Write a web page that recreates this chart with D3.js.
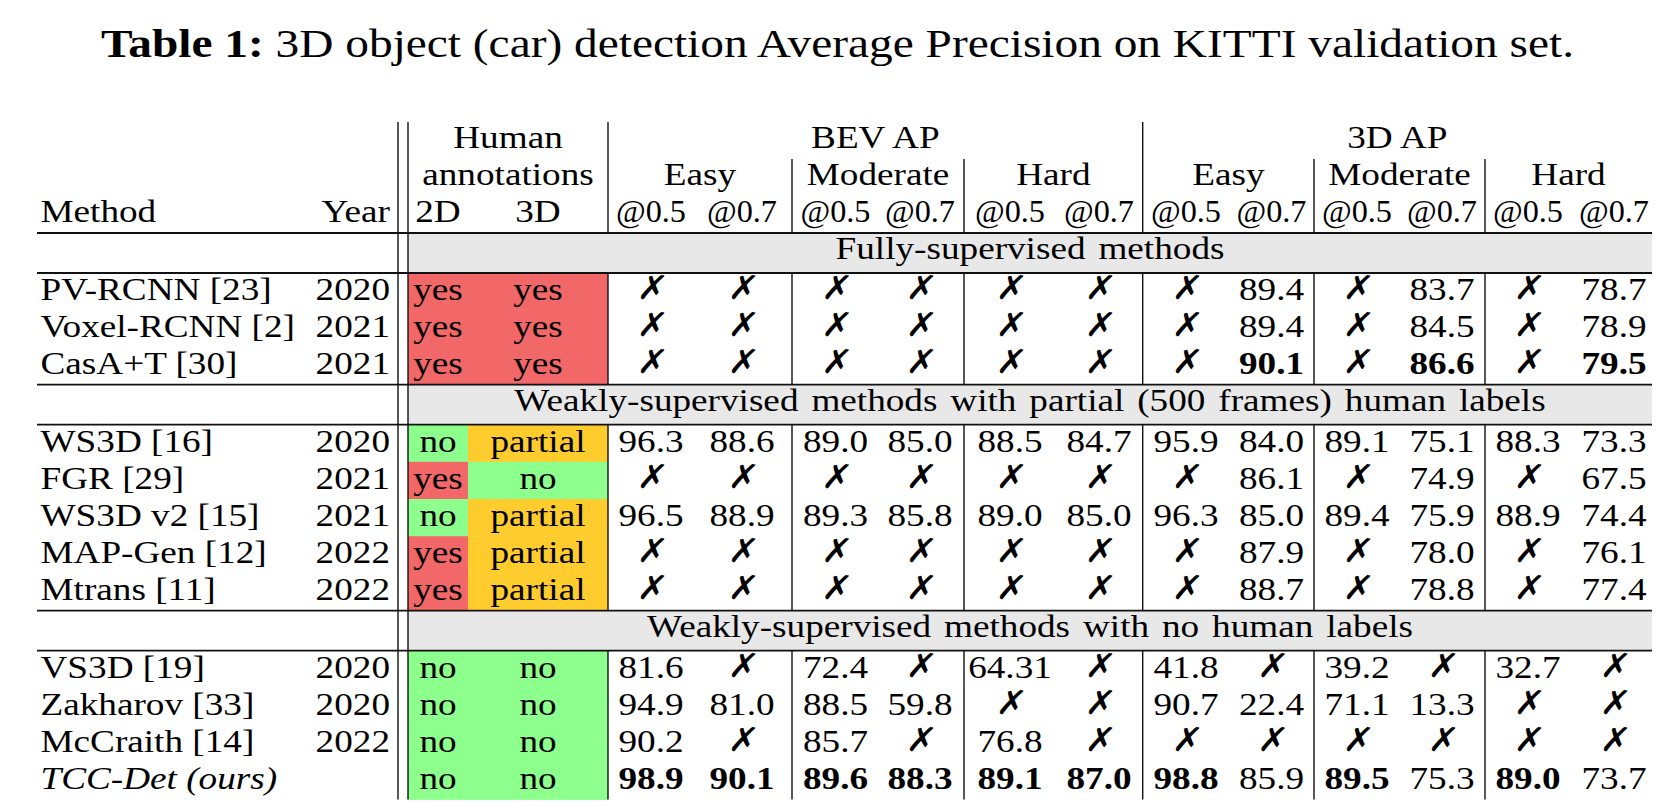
<!DOCTYPE html>
<html lang="en">
<head>
<meta charset="utf-8" />
<title>Table 1: KITTI 3D detection AP</title>
<style>
  * {margin: 0; padding: 0;}
  body {background: #fff;}
  svg {display: block;}
  text {font-family: "Liberation Serif", "Times New Roman", serif; fill: #000;}
  .x {font-family: "DejaVu Sans", sans-serif; font-weight: bold;}
</style>
</head>
<body>
<div id="viz"></div>
<script src="https://cdn.jsdelivr.net/npm/d3@7"></script>
<script>

var groupLabels = ["Fully-supervised methods",
                   "Weakly-supervised methods with partial (500 frames) human labels",
                   "Weakly-supervised methods with no human labels"];
var groupSizes = [3, 5, 4];

var methods = ["PV-RCNN [23]", "Voxel-RCNN [2]", "CasA+T [30]",
               "WS3D [16]", "FGR [29]", "WS3D v2 [15]", "MAP-Gen [12]", "Mtrans [11]",
               "VS3D [19]", "Zakharov [33]", "McCraith [14]", "TCC-Det (ours)"];
var years = ["2020", "2021", "2021", "2020", "2021", "2021", "2022", "2022",
             "2020", "2020", "2022", ""];
var human2D = ["yes", "yes", "yes", "no", "yes", "no", "yes", "yes", "no", "no", "no", "no"];
var human3D = ["yes", "yes", "yes", "partial", "no", "partial", "partial", "partial",
               "no", "no", "no", "no"];

var apGroups = ["BEV AP", "3D AP"];
var difficulties = ["Easy", "Moderate", "Hard"];
var iouLabels = ["@0.5", "@0.7"];

// null = not reported (cross mark); columns: Easy .5/.7, Moderate .5/.7, Hard .5/.7
var bevAP = [
  [null, null, null, null, null, null],
  [null, null, null, null, null, null],
  [null, null, null, null, null, null],
  ["96.3", "88.6", "89.0", "85.0", "88.5", "84.7"],
  [null, null, null, null, null, null],
  ["96.5", "88.9", "89.3", "85.8", "89.0", "85.0"],
  [null, null, null, null, null, null],
  [null, null, null, null, null, null],
  ["81.6", null, "72.4", null, "64.31", null],
  ["94.9", "81.0", "88.5", "59.8", null, null],
  ["90.2", null, "85.7", null, "76.8", null],
  ["98.9", "90.1", "89.6", "88.3", "89.1", "87.0"]
];
var ap3D = [
  [null, "89.4", null, "83.7", null, "78.7"],
  [null, "89.4", null, "84.5", null, "78.9"],
  [null, "90.1", null, "86.6", null, "79.5"],
  ["95.9", "84.0", "89.1", "75.1", "88.3", "73.3"],
  [null, "86.1", null, "74.9", null, "67.5"],
  ["96.3", "85.0", "89.4", "75.9", "88.9", "74.4"],
  [null, "87.9", null, "78.0", null, "76.1"],
  [null, "88.7", null, "78.8", null, "77.4"],
  ["41.8", null, "39.2", null, "32.7", null],
  ["90.7", "22.4", "71.1", "13.3", null, null],
  [null, null, null, null, null, null],
  ["98.8", "85.9", "89.5", "75.3", "89.0", "73.7"]
];
// best results printed in bold: [row, "bev"|"3d", column]
var bestCells = [[2, "3d", 1], [2, "3d", 3], [2, "3d", 5],
                 [11, "bev", 0], [11, "bev", 1], [11, "bev", 2], [11, "bev", 3],
                 [11, "bev", 4], [11, "bev", 5],
                 [11, "3d", 0], [11, "3d", 2], [11, "3d", 4]];

// ---- layout ----
var W = 1673, H = 810;
var SX = 1.2;           // the scanned table is wider than it is tall
var FS = 31;

var svg = d3.select("#viz").append("svg").attr("width", W).attr("height", H);

var xLeft = 37, xRight = 1652, xYear = 390, xV1 = 398, xV2 = 408, xMid = 468, xHA = 608;
var groupEdges = {bev: [608, 792, 964, 1142.7], "3d": [1142.7, 1314, 1485, 1652]};
var colKeys = [];
["bev", "3d"].forEach(function(g){ d3.range(6).forEach(function(i){ colKeys.push(g + i); }); });
var x = d3.scaleOrdinal().domain(colKeys)
    .range([651, 742, 835.5, 920, 1010, 1099, 1186, 1271.5, 1357, 1442, 1528, 1614]);
var xHuman = d3.scaleOrdinal().domain(["2D", "3D"]).range([438, 538]);

var headTop = 122, headRule = 233, bandH = 40, rowH = 37.2;

// row / band vertical positions
var rowTop = [], bands = [], yy = headRule;
groupSizes.forEach(function(n, gi){
  bands.push({label: groupLabels[gi], y: yy});
  yy += bandH;
  for (var k = 0; k < n; k++) { rowTop.push(yy); yy += rowH; }
});
var yBottom = yy;
var y = d3.scaleOrdinal().domain(d3.range(methods.length)).range(rowTop);

function txt(str, tx, ty, anchor, sx){
  return svg.append("text")
    .attr("transform", "translate(" + tx + "," + ty + ") scale(" + (sx || SX) + ",1)")
    .attr("text-anchor", anchor || "middle")
    .style("font-size", FS + "px")
    .text(str);
}

// colour fills first
var fillOf = {yes: "#f26767", no: "#8cff8c", partial: "#ffcc2e"};
svg.selectAll("rect.b").data(bands).enter().append("rect")
  .attr("x", xV2).attr("y", function(d){ return d.y; })
  .attr("width", xRight - xV2).attr("height", bandH)
  .style("fill", "#e8e8e8");
svg.selectAll("rect.h2").data(human2D).enter().append("rect")
  .attr("x", xV2).attr("y", function(d, i){ return y(i); })
  .attr("width", xMid - xV2).attr("height", rowH + 0.5)
  .style("fill", function(d){ return fillOf[d]; });
svg.selectAll("rect.h3").data(human3D).enter().append("rect")
  .attr("x", xMid).attr("y", function(d, i){ return y(i); })
  .attr("width", xHA - xMid).attr("height", rowH + 0.5)
  .style("fill", function(d){ return fillOf[d]; });

// title
var title = svg.append("text").attr("x", 101).attr("y", 57)
  .style("font-size", "40px");
title.append("tspan").style("font-weight", "bold").text("Table 1:");
title.append("tspan").text(" 3D object (car) detection Average Precision on KITTI validation set.");
title.attr("textLength", 1473).attr("lengthAdjust", "spacingAndGlyphs");

// header
txt("Method", 40.5, 222, "start");
txt("Year", xYear, 222, "end");
txt("Human", (xV2 + xHA) / 2, 148);
txt("annotations", (xV2 + xHA) / 2, 185);
txt("2D", xHuman("2D"), 222);
txt("3D", xHuman("3D"), 222);
["bev", "3d"].forEach(function(g, gi){
  var e = groupEdges[g];
  txt(apGroups[gi], (e[0] + e[3]) / 2, 148);
  difficulties.forEach(function(dname, di){
    txt(dname, (e[di] + e[di + 1]) / 2, 185);
    iouLabels.forEach(function(lab, li){ txt(lab, x(g + (di * 2 + li)), 222, "middle", 1.04); });
  });
});

// band labels
bands.forEach(function(b){
  var t = txt(b.label, (xV2 + xRight) / 2, b.y + 26);
  t.style("word-spacing", "3px");
});

// body
var isBest = function(r, g, c){
  return bestCells.some(function(b){ return b[0] === r && b[1] === g && b[2] === c; });
};
methods.forEach(function(m, r){
  var base = y(r) + 27;
  var t = txt(m, 40.5, base, "start");
  if (r === methods.length - 1) t.style("font-style", "italic");
  txt(years[r], xYear, base, "end");
  txt(human2D[r], xHuman("2D"), base);
  txt(human3D[r], xHuman("3D"), base);
  [["bev", bevAP[r]], ["3d", ap3D[r]]].forEach(function(p){
    p[1].forEach(function(v, c){
      var cx = x(p[0] + c);
      if (v === null) {
        svg.append("text").attr("class", "x")
          .attr("transform", "translate(" + cx + "," + (base - 1) + ") scale(1.05,1) skewX(-8)")
          .attr("text-anchor", "middle").style("font-size", "33px").text("\u2717");
      } else {
        var tv = txt(v, cx, base);
        if (isBest(r, p[0], c)) tv.style("font-weight", "bold");
      }
    });
  });
});

// rules
var hRules = [headRule];
bands.forEach(function(b){ hRules.push(b.y); hRules.push(b.y + bandH); });
svg.selectAll("line.h").data(Array.from(new Set(hRules))).enter().append("line")
  .attr("x1", xLeft).attr("x2", xRight)
  .attr("y1", function(d){ return d; }).attr("y2", function(d){ return d; })
  .style("stroke", "#111").style("stroke-width", 1.8);

// vertical rules: the double line runs the whole height
[xV1, xV2].forEach(function(vx){
  svg.append("line").attr("x1", vx).attr("x2", vx).attr("y1", headTop).attr("y2", yBottom)
    .style("stroke", "#111").style("stroke-width", 1.4);
});
// inner ones are interrupted by the band rows
var segs = [];
[[xHA, headTop], [groupEdges.bev[1], 159], [groupEdges.bev[2], 159], [groupEdges["3d"][0], headTop],
 [groupEdges["3d"][1], 159], [groupEdges["3d"][2], 159]].forEach(function(v){
  segs.push([v[0], v[1], headRule]);
  bands.forEach(function(b, bi){
    var end = bi + 1 < bands.length ? bands[bi + 1].y : yBottom;
    segs.push([v[0], b.y + bandH, end]);
  });
});
svg.selectAll("line.v").data(segs).enter().append("line")
  .attr("x1", function(d){ return d[0]; }).attr("x2", function(d){ return d[0]; })
  .attr("y1", function(d){ return d[1]; }).attr("y2", function(d){ return d[2]; })
  .style("stroke", "#111").style("stroke-width", 1.4);

</script>
</body>
</html>
